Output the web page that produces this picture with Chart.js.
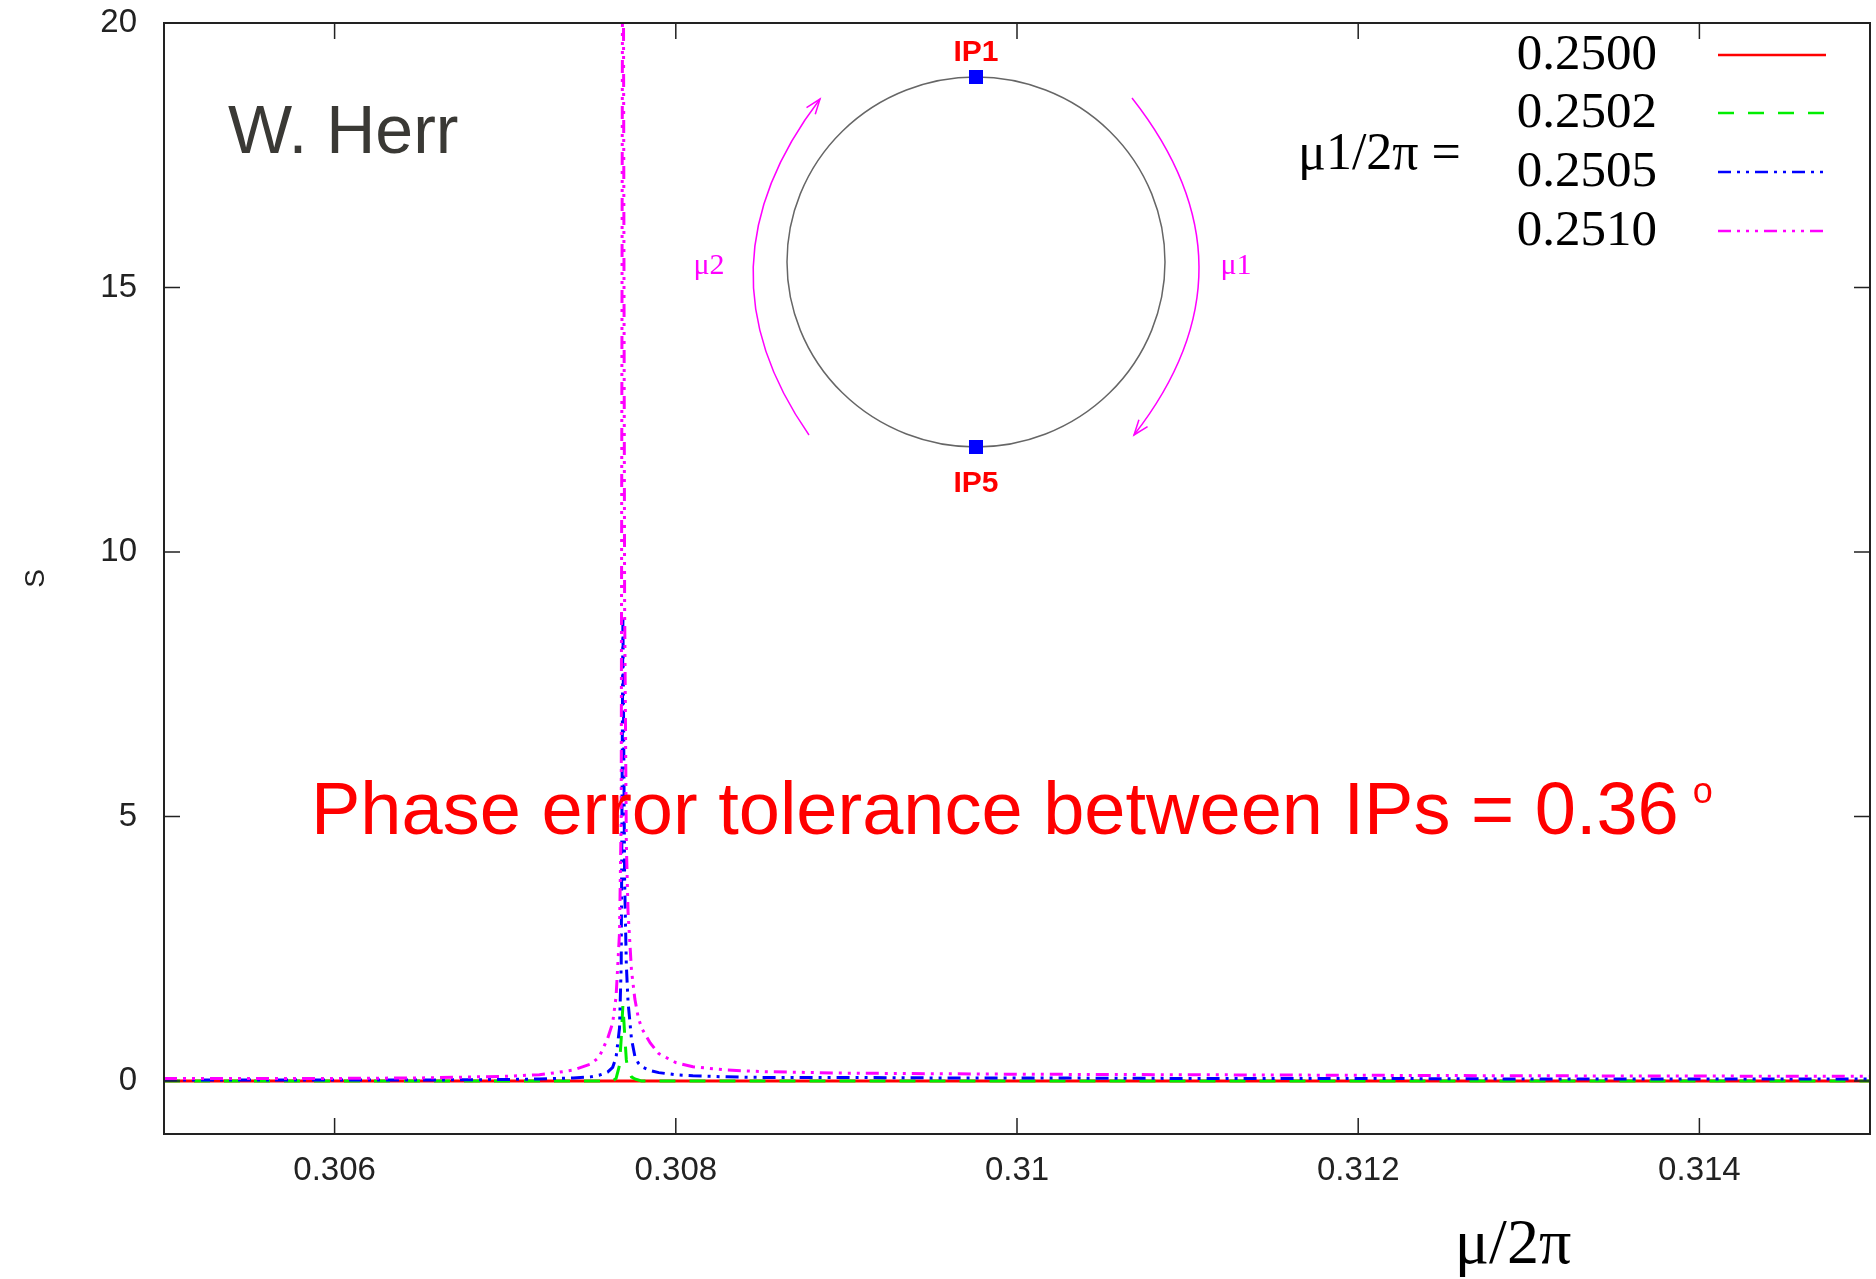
<!DOCTYPE html>
<html>
<head>
<meta charset="utf-8">
<script src="https://cdn.jsdelivr.net/npm/chart.js@4.4.1/dist/chart.umd.min.js"></script>
<style>
  body { margin: 0; background: #fff; }
  canvas { display: block; }
</style>
</head>
<body>
<canvas id="chart" width="1876" height="1279"></canvas>
<script>
// mu/2pi on the x axis, shared by every curve
const muValues = [0.3050, 0.3055, 0.3060, 0.3065, 0.3070, 0.3072, 0.3073, 0.3074, 0.3075, 0.30755,
    0.3076, 0.30763, 0.30765, 0.30767, 0.30768, 0.30769, 0.30770, 0.30771, 0.30772, 0.30774,
    0.30776, 0.30778, 0.3078, 0.30785, 0.3079, 0.3080, 0.3081, 0.3083, 0.3085, 0.3090,
    0.3095, 0.3100, 0.3110, 0.3120, 0.3130, 0.3140, 0.3150];

// S for each mu1/2pi
const s2500 = [0, 0, 0, 0, 0, 0, 0, 0, 0, 0,
    0, 0, 0, 0, 0, 0, 0, 0, 0, 0,
    0, 0, 0, 0, 0, 0, 0, 0, 0, 0,
    0, 0, 0, 0, 0, 0, 0];
const s2502 = [0, 0, 0, 0, 0, 0, 0, 0, 0, 0,
    0, 0, 0.05, 0.3, 0.8, 1.45, 0.9, 0.4, 0.22, 0.08,
    0.04, 0.02, 0, 0, 0, 0, 0, 0, 0, 0,
    0, 0, 0, 0, 0, 0, 0];
const s2505 = [0.02, 0.02, 0.02, 0.02, 0.03, 0.04, 0.05, 0.06, 0.08, 0.11,
    0.17, 0.26, 0.45, 1.0, 2.2, 8.8, 3.8, 2.2, 1.5, 0.8,
    0.47, 0.34, 0.27, 0.2, 0.16, 0.12, 0.1, 0.08, 0.07, 0.07,
    0.06, 0.06, 0.05, 0.05, 0.04, 0.04, 0.04];
const s2510 = [0.05, 0.05, 0.05, 0.06, 0.09, 0.12, 0.16, 0.21, 0.32, 0.45,
    0.8, 1.1, 1.6, 2.8, 5, 26, 9, 4.5, 3.2, 2.1,
    1.55, 1.2, 1.0, 0.72, 0.52, 0.35, 0.27, 0.21, 0.18, 0.15,
    0.14, 0.13, 0.12, 0.11, 0.10, 0.095, 0.09];

const seriesLabels = ['0.2500', '0.2502', '0.2505', '0.2510'];
const xTicks = [0.306, 0.308, 0.31, 0.312, 0.314];
const xTickLabels = ['0.306', '0.308', '0.31', '0.312', '0.314'];
const yTicks = [0, 5, 10, 15, 20];
const yTickLabels = ['0', '5', '10', '15', '20'];

function toPoints(ys) {
    return muValues.map((x, i) => ({ x: x, y: ys[i] }));
}

const colors = ['#ff0000', '#00ee00', '#0000ff', '#ff00ff'];
const dashes = [[], [16, 14], [13, 6, 3, 6, 3, 6], [13, 6, 3, 6, 3, 6, 3, 6]];
const allSeries = [s2500, s2502, s2505, s2510];

let datasets = [];
for (let i = 0; i < allSeries.length; i++) {
    datasets.push({
        label: seriesLabels[i],
        data: toPoints(allSeries[i]),
        borderColor: colors[i],
        borderWidth: 3,
        borderDash: dashes[i],
        pointRadius: 0,
        tension: 0,
        fill: false,
        order: 4 - i
    });
}

const decor = {
    id: 'decor',
    afterDraw(chart) {
        const ctx = chart.ctx;
        const a = chart.chartArea;
        const xs = chart.scales.x;
        const ys = chart.scales.y;
        ctx.save();

        // frame with inward ticks on all sides
        ctx.strokeStyle = '#222';
        ctx.lineWidth = 2;
        ctx.strokeRect(a.left, a.top, a.right - a.left, a.bottom - a.top);
        ctx.lineWidth = 1.5;
        ctx.beginPath();
        xTicks.forEach(v => {
            let px = xs.getPixelForValue(v);
            ctx.moveTo(px, a.bottom); ctx.lineTo(px, a.bottom - 16);
            ctx.moveTo(px, a.top); ctx.lineTo(px, a.top + 16);
        });
        yTicks.forEach(v => {
            let py = ys.getPixelForValue(v);
            ctx.moveTo(a.left, py); ctx.lineTo(a.left + 16, py);
            ctx.moveTo(a.right, py); ctx.lineTo(a.right - 16, py);
        });
        ctx.stroke();

        // axis titles
        ctx.fillStyle = '#000';
        ctx.font = '64px "Liberation Serif"';
        ctx.textAlign = 'center';
        ctx.textBaseline = 'middle';
        ctx.fillText('\u03bc/2\u03c0', 1513, 1246);

        ctx.save();
        ctx.translate(36, (a.top + a.bottom) / 2);
        ctx.rotate(-Math.PI / 2);
        ctx.fillStyle = '#222';
        ctx.font = '28px "Liberation Sans"';
        ctx.fillText('S', 0, 0);
        ctx.restore();

        // author
        ctx.textAlign = 'left';
        ctx.textBaseline = 'alphabetic';
        ctx.fillStyle = '#3a3935';
        ctx.font = '68px "Liberation Sans"';
        ctx.fillText('W. Herr', 228, 153);

        // tolerance note
        ctx.fillStyle = '#ff0000';
        ctx.font = '74px "Liberation Sans"';
        let note = 'Phase error tolerance between IPs = 0.36';
        ctx.fillText(note, 311, 834);
        let w = ctx.measureText(note).width;
        ctx.font = '36px "Liberation Sans"';
        ctx.fillText('o', 311 + w + 14, 803);

        // legend
        ctx.fillStyle = '#000';
        ctx.font = '52px "Liberation Serif"';
        ctx.textBaseline = 'middle';
        ctx.textAlign = 'left';
        ctx.fillText('\u03bc1/2\u03c0 =', 1298, 155);
        const legY = [55, 113, 172, 231];
        chart.data.datasets.forEach((ds, i) => {
            ctx.fillStyle = '#000';
            ctx.textAlign = 'right';
            ctx.font = '51px "Liberation Serif"';
            ctx.fillText(ds.label, 1657, legY[i] + 1);
            ctx.strokeStyle = ds.borderColor;
            ctx.lineWidth = 2.5;
            ctx.setLineDash(ds.borderDash);
            ctx.beginPath();
            ctx.moveTo(1718, legY[i]);
            ctx.lineTo(1826, legY[i]);
            ctx.stroke();
        });
        ctx.setLineDash([]);

        // ring inset
        const cx = 976, cy = 262;
        ctx.strokeStyle = '#666';
        ctx.lineWidth = 1.5;
        ctx.beginPath();
        ctx.ellipse(cx, cy, 189, 185, 0, 0, Math.PI * 2);
        ctx.stroke();
        ctx.fillStyle = '#0000ff';
        ctx.fillRect(cx - 7, 77 - 7, 14, 14);
        ctx.fillRect(cx - 7, 447 - 7, 14, 14);
        ctx.fillStyle = '#ff0000';
        ctx.font = 'bold 30px "Liberation Sans"';
        ctx.textAlign = 'center';
        ctx.fillText('IP1', cx, 53);
        ctx.fillText('IP5', cx, 484);

        ctx.strokeStyle = '#ff00ff';
        ctx.lineWidth = 1.5;
        function arrowArc(p0, c, p2) {
            ctx.beginPath();
            ctx.moveTo(p0[0], p0[1]);
            ctx.quadraticCurveTo(c[0], c[1], p2[0], p2[1]);
            ctx.stroke();
            let dx = p2[0] - c[0], dy = p2[1] - c[1];
            let ang = Math.atan2(dy, dx);
            ctx.beginPath();
            ctx.moveTo(p2[0] - 16 * Math.cos(ang - 0.35), p2[1] - 16 * Math.sin(ang - 0.35));
            ctx.lineTo(p2[0], p2[1]);
            ctx.lineTo(p2[0] - 16 * Math.cos(ang + 0.35), p2[1] - 16 * Math.sin(ang + 0.35));
            ctx.stroke();
        }
        arrowArc([809, 435], [692, 267], [820, 99]);
        arrowArc([1132, 98], [1265, 267], [1134, 435]);
        ctx.fillStyle = '#ff00ff';
        ctx.font = '30px "Liberation Serif"';
        ctx.fillText('\u03bc2', 709, 266);
        ctx.fillText('\u03bc1', 1236, 266);

        ctx.restore();
    }
};

const ctx = document.getElementById('chart').getContext('2d');
let myChart = new Chart(ctx, {
    type: 'line',
    data: { datasets: datasets },
    options: {
        responsive: false,
        animation: false,
        layout: { padding: { left: 0, right: 6, top: 23, bottom: 0 } },
        plugins: {
            legend: { display: false },
            tooltip: { enabled: false }
        },
        scales: {
            x: {
                type: 'linear',
                min: 0.305,
                max: 0.315,
                grid: { display: false, drawTicks: false },
                border: { display: false },
                afterBuildTicks: (scale) => { scale.ticks = xTicks.map(v => ({ value: v })); },
                afterFit: (scale) => {
                    scale.height = 145;
                    scale.paddingLeft = 0;
                    scale.paddingRight = 0;
                },
                ticks: {
                    autoSkip: false,
                    maxRotation: 0,
                    padding: 17,
                    color: '#222',
                    font: { family: 'Liberation Sans', size: 33 },
                    callback: (value, index) => xTickLabels[index]
                }
            },
            y: {
                type: 'linear',
                min: -1,
                max: 20,
                grid: { display: false, drawTicks: false },
                border: { display: false },
                afterBuildTicks: (scale) => { scale.ticks = yTicks.map(v => ({ value: v })); },
                afterFit: (scale) => {
                    scale.width = 164;
                    scale.paddingTop = 0;
                    scale.paddingBottom = 0;
                },
                ticks: {
                    autoSkip: false,
                    padding: 27,
                    color: '#222',
                    font: { family: 'Liberation Sans', size: 33 },
                    callback: (value, index) => yTickLabels[index]
                }
            }
        }
    },
    plugins: [decor]
});
</script>
</body>
</html>
